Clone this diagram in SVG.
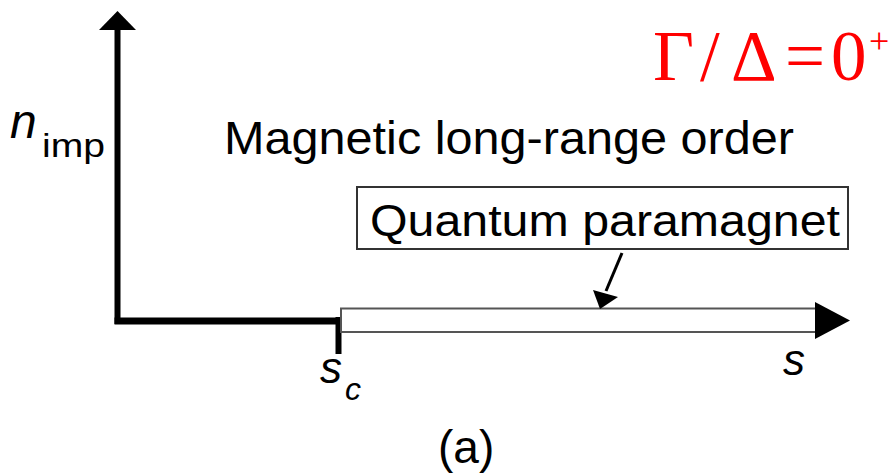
<svg xmlns="http://www.w3.org/2000/svg" width="895" height="475" viewBox="0 0 895 475">
<style>
.lbl{font-family:"Liberation Sans",Arial,sans-serif;fill:#000}
.it{font-style:italic}
.red{font-family:"Liberation Serif","Times New Roman",serif;fill:#ff0000;font-size:71px}
</style>
<rect width="895" height="475" fill="#fff"/>
<g id="axes">
<line x1="117.5" y1="28" x2="117.5" y2="324" stroke="#000" stroke-width="6"/>
<polygon points="99,30 136,30 117.5,11" fill="#000"/>
<line x1="114.5" y1="321" x2="341" y2="321" stroke="#000" stroke-width="7"/>
<line x1="338.5" y1="317" x2="338.5" y2="354" stroke="#000" stroke-width="6"/>
</g>
<g id="bar">
<rect x="341" y="308.5" width="476" height="23.5" fill="#fff" stroke="#555" stroke-width="2"/>
<polygon points="815,302 815,339 850,320.5" fill="#000"/>
</g>
<g id="qp-box">
<rect x="357" y="187" width="491" height="62" fill="#fff" stroke="#333" stroke-width="2"/>
<text class="lbl" x="370" y="236" font-size="45" textLength="470" lengthAdjust="spacingAndGlyphs">Quantum paramagnet</text>
</g>
<g id="connectors">
<line x1="622" y1="253" x2="606" y2="291" stroke="#000" stroke-width="3"/>
<polygon points="593,290 618,297 600,309" fill="#000"/>
</g>
<g id="labels">
<text class="lbl" x="224" y="154" font-size="46" textLength="570" lengthAdjust="spacingAndGlyphs">Magnetic long-range order</text>
<text class="lbl it" x="10" y="138" font-size="48">n</text>
<text class="lbl" x="42" y="157" font-size="34" textLength="63" lengthAdjust="spacingAndGlyphs">imp</text>
<text class="lbl it" x="320" y="383" font-size="44">s</text>
<text class="lbl it" x="345" y="400" font-size="32">c</text>
<text class="lbl it" x="783" y="375" font-size="44">s</text>
<text class="lbl" x="438" y="463" font-size="46">(a)</text>
</g>
<g id="formula">
<text class="red" y="80"><tspan x="653">Γ</tspan><tspan x="700">/</tspan><tspan x="731">Δ</tspan><tspan x="785">=</tspan><tspan x="831">0</tspan></text>
<text class="red" x="869" y="53" font-size="36" style="font-size:36px">+</text>
</g>
</svg>
